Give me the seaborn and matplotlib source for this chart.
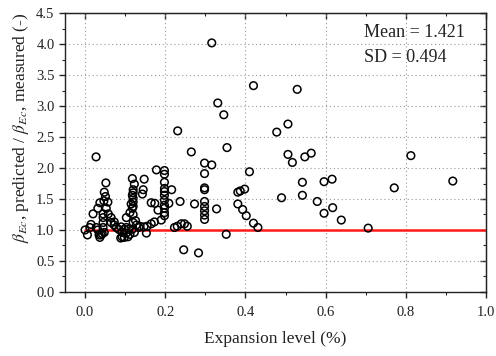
import matplotlib
matplotlib.use("Agg")
import matplotlib.pyplot as plt
import seaborn as sns
import pandas as pd
from matplotlib.ticker import MultipleLocator

# ---- data ----
expansion = [
    0.000, 0.006, 0.012, 0.015, 0.020, 0.0275, 0.028, 0.032, 0.032, 0.035,
    0.037, 0.037, 0.040, 0.043, 0.045, 0.045, 0.045, 0.045, 0.047, 0.048,
    0.048, 0.051, 0.052, 0.053, 0.057, 0.058, 0.065, 0.065, 0.073, 0.0725,
    0.078, 0.084, 0.089, 0.090, 0.0925, 0.0925, 0.098, 0.098, 0.103, 0.103,
    0.103, 0.107, 0.109, 0.112, 0.112, 0.115, 0.118, 0.118, 0.1175, 0.118,
    0.120, 0.120, 0.120, 0.120, 0.120, 0.123, 0.123, 0.120, 0.120, 0.126,
    0.128, 0.134, 0.137, 0.143, 0.145, 0.147, 0.1475, 0.153, 0.155, 0.165,
    0.165, 0.173, 0.174, 0.178, 0.182, 0.190, 0.198, 0.198, 0.198, 0.198,
    0.198, 0.198, 0.198, 0.198, 0.198, 0.198, 0.198, 0.209, 0.216, 0.223,
    0.230, 0.231, 0.237, 0.240, 0.246, 0.248, 0.255, 0.265, 0.273, 0.283,
    0.298, 0.298, 0.298, 0.298, 0.298, 0.298, 0.298, 0.298, 0.298, 0.316,
    0.316, 0.328, 0.331, 0.346, 0.352, 0.354, 0.381, 0.387, 0.398, 0.381,
    0.393, 0.402, 0.410, 0.420, 0.420, 0.431, 0.478, 0.490, 0.506, 0.506,
    0.517, 0.529, 0.542, 0.542, 0.548, 0.564, 0.579, 0.596, 0.596, 0.616,
    0.6175, 0.639, 0.706, 0.771, 0.8125, 0.917,
]
ratio = [
    1.00, 0.92, 1.04, 1.09, 1.26, 2.18, 1.04, 1.00, 1.35, 0.92,
    0.88, 1.44, 0.92, 0.94, 1.04, 1.12, 1.20, 1.26, 1.47, 0.96,
    1.61, 1.54, 1.76, 1.35, 1.45, 1.26, 1.12, 1.20, 1.13, 1.08,
    1.04, 1.01, 0.87, 1.05, 0.96, 0.89, 1.01, 0.88, 1.04, 0.95,
    1.20, 0.89, 1.01, 0.93, 1.28, 1.42, 1.35, 1.56, 1.01, 1.83,
    1.51, 1.65, 1.45, 1.38, 1.60, 1.74, 0.96, 1.25, 1.12, 1.15,
    1.08, 1.04, 1.06, 1.58, 1.65, 1.05, 1.82, 0.95, 1.06, 1.10,
    1.44, 1.13, 1.43, 1.97, 1.32, 1.16, 1.96, 1.90, 1.77, 1.67,
    1.62, 1.56, 1.48, 1.40, 1.35, 1.28, 1.23, 1.43, 1.65, 1.04,
    1.06, 2.60, 1.46, 1.10, 0.68, 1.10, 1.06, 2.26, 1.42, 0.63,
    2.08, 1.91, 1.68, 1.65, 1.46, 1.38, 1.31, 1.24, 1.17, 4.02,
    2.05, 1.34, 3.05, 2.86, 0.93, 2.33, 1.61, 1.63, 1.66, 1.42,
    1.33, 1.23, 1.94, 1.11, 3.33, 1.04, 2.58, 1.52, 2.71, 2.22,
    2.09, 3.27, 1.77, 1.56, 2.18, 2.24, 1.46, 1.78, 1.27, 1.82,
    1.36, 1.16, 1.03, 1.68, 2.20, 1.79,
]
ref_x = [0.0, 1.0]
ref_y = [1.0, 1.0]
x_ticks = [0.0, 0.2, 0.4, 0.6, 0.8, 1.0]
y_ticks = [0.0, 0.5, 1.0, 1.5, 2.0, 2.5, 3.0, 3.5, 4.0, 4.5]
mean_text = "Mean = 1.421"
sd_text = "SD = 0.494"

df = pd.DataFrame({"x": expansion, "y": ratio})
ref = pd.DataFrame({"x": ref_x, "y": ref_y})

sns.set_style("ticks")
plt.rcParams["font.family"] = ["Liberation Serif", "DejaVu Serif"]
plt.rcParams["mathtext.fontset"] = "stix"

fig = plt.figure(figsize=(4.96, 3.56), dpi=100)
ax = fig.add_axes([0.131, 0.18, 0.849, 0.783])

ax.grid(True, which="major", linestyle=(0, (1, 2.5)), color="#9a9a9a", linewidth=0.8)
ax.set_axisbelow(True)

sns.lineplot(data=ref, x="x", y="y", ax=ax, color="#ff1a1a", linewidth=1.8, zorder=2)
sns.scatterplot(data=df, x="x", y="y", ax=ax, marker="o", s=30,
                facecolor="none", edgecolor="black", linewidth=1.1, zorder=3)

ax.set_xlim(-0.05, 1.0)
ax.set_ylim(0.0, 4.5)
ax.set_xticks(x_ticks)
ax.set_yticks(y_ticks)
ax.set_xticklabels([f"{v:.1f}" for v in x_ticks])
ax.set_yticklabels([f"{v:.1f}" for v in y_ticks])
ax.xaxis.set_minor_locator(MultipleLocator(0.1))
ax.yaxis.set_minor_locator(MultipleLocator(0.25))
ax.tick_params(which="major", direction="out", length=4, width=1, labelsize=10.5, colors="#222222")
ax.tick_params(axis="x", which="major", pad=6)
ax.tick_params(which="minor", direction="out", length=2.5, width=0.8)

for sp in ax.spines.values():
    sp.set_visible(True)
    sp.set_linewidth(1.0)
    sp.set_color("#222222")

top = ax.secondary_xaxis("top")
top.set_xticks(x_ticks)
top.tick_params(direction="in", length=4, width=1, labeltop=False)
top.xaxis.set_minor_locator(MultipleLocator(0.1))
top.tick_params(which="minor", direction="in", length=2.5, width=0.8)
right = ax.secondary_yaxis("right")
right.set_yticks(y_ticks)
right.tick_params(direction="in", length=4, width=1, labelright=False)
right.yaxis.set_minor_locator(MultipleLocator(0.25))
right.tick_params(which="minor", direction="in", length=2.5, width=0.8)

ax.set_xlabel("Expansion level (%)", fontsize=12.5, color="#222222", labelpad=9)
ax.set_ylabel(r"$\beta_{Ec}$, predicted / $\beta_{Ec}$, measured (-)", fontsize=12.5, color="#222222")
ax.yaxis.set_label_coords(-0.08, 0.59)

ax.text(0.695, 4.19, mean_text, fontsize=13, va="center", ha="left", color="#222222")
ax.text(0.695, 3.79, sd_text, fontsize=13, va="center", ha="left", color="#222222")

fig.savefig("out.png", dpi=100)
